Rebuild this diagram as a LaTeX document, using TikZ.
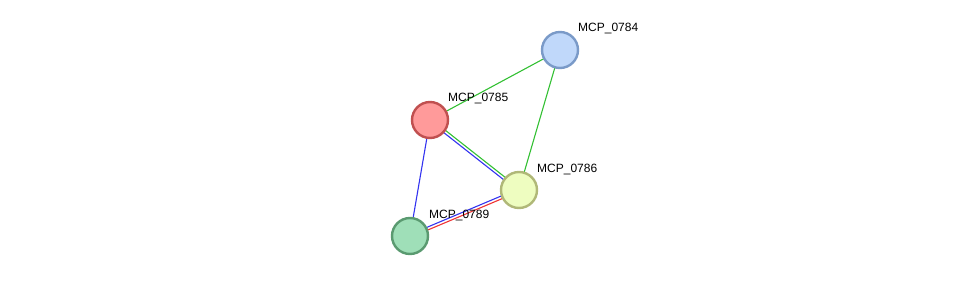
\documentclass[tikz,border=0pt]{standalone}
\usepackage{fontspec}
\setmainfont{Liberation Sans}
\usetikzlibrary{calc,backgrounds}
\definecolor{eg}{HTML}{33C033}
\definecolor{eb}{HTML}{3333F0}
\definecolor{er}{HTML}{F03333}
\tikzset{
  prot/.style={circle, minimum size=36pt, inner sep=0pt, line width=2.4pt},
  lbl/.style={anchor=south west, inner sep=0pt, font=\fontsize{12}{14}\selectfont},
  edge/.style={line width=1.1pt}
}
\begin{document}
\begin{tikzpicture}[x=1pt,y=-1pt]
\useasboundingbox (0,0) rectangle (975,281);
\node[prot, fill={rgb,255:red,192;green,216;blue,250}, draw={rgb,255:red,122;green,154;blue,200}] (n84) at (560,50) {};
\node[prot, fill={rgb,255:red,255;green,154;blue,154}, draw={rgb,255:red,192;green,80;blue,80}] (n85) at (430,120) {};
\node[prot, fill={rgb,255:red,238;green,253;blue,192}, draw={rgb,255:red,176;green,184;blue,120}] (n86) at (519,190) {};
\node[prot, fill={rgb,255:red,159;green,223;blue,184}, draw={rgb,255:red,90;green,154;blue,112}] (n89) at (410,236) {};
\node[lbl] (l84) at (578,34) {MCP\_0784};
\node[lbl] (l85) at (448,104) {MCP\_0785};
\node[lbl] (l86) at (537,175) {MCP\_0786};
\node[lbl] (l89) at (429,221) {MCP\_0789};
\begin{pgfonlayer}{background}
\draw[edge, eg] (n84.center) -- (n85.center);
\draw[edge, eg] (n84.center) -- (n86.center);
\draw[edge, eb] (n85.center) -- (n89.center);
\draw[edge, eg] ($(n85.center)!1.4pt!90:(n86.center)$) -- ($(n86.center)!1.4pt!-90:(n85.center)$);
\draw[edge, eb] ($(n85.center)!1.4pt!-90:(n86.center)$) -- ($(n86.center)!1.4pt!90:(n85.center)$);
\draw[edge, eb] ($(n86.center)!1.4pt!-90:(n89.center)$) -- ($(n89.center)!1.4pt!90:(n86.center)$);
\draw[edge, er] ($(n86.center)!1.4pt!90:(n89.center)$) -- ($(n89.center)!1.4pt!-90:(n86.center)$);
\end{pgfonlayer}
\end{tikzpicture}
\end{document}
